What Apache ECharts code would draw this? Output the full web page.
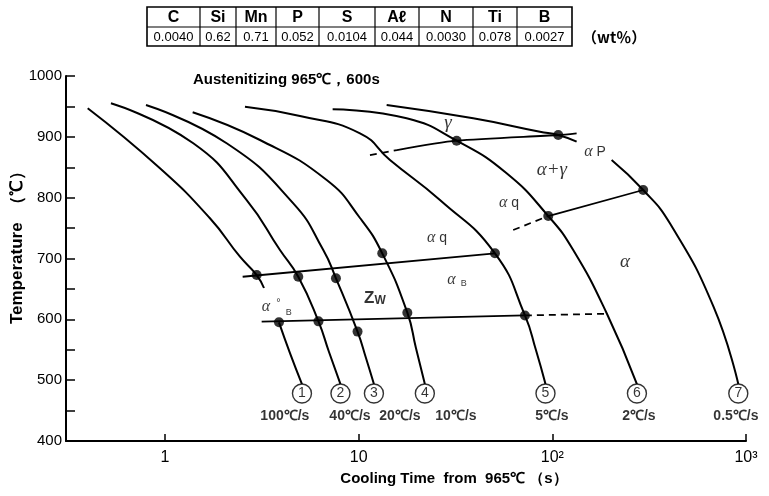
<!DOCTYPE html>
<html><head><meta charset="utf-8">
<script src="https://cdn.jsdelivr.net/npm/echarts@6/dist/echarts.min.js"></script>
<style>html,body{margin:0;padding:0;background:#fff}#c{width:769px;height:496px}</style>
</head><body><div id="c"></div>
<script>
// ---- data ----
const elements = ['C','Si','Mn','P','S','Aℓ','N','Ti','B'];
const composition = ['0.0040','0.62','0.71','0.052','0.0104','0.044','0.0030','0.078','0.0027'];
const xTickValues = [1, 10, 100, 1000];
const xTickLabels = ['1', '10', '10²', '10³'];
const yTickValues = [400, 500, 600, 700, 800, 900, 1000];
const coolingRates = ['100℃/s','40℃/s','20℃/s','10℃/s','5℃/s','2℃/s','0.5℃/s'];
const curveNumbers = ['1','2','3','4','5','6','7'];
// cooling curves [time s, temperature C]
const curve1a = [[0.399,946.9],[0.942,848.3],[1.707,766.1],[2.439,702.9],[2.975,672.8],[3.245,651.5]];
const curve1b = [[3.878,595.1],[4.42,544.6],[5.097,493.6]];
const curve2 = [[0.526,955.1],[1.400,889.4],[2.641,796.1],[3.924,713.9],[4.878,670.0],[6.202,596.7],[7.03,546.3],[8.055,493.6]];
const curve3 = [[0.798,952.3],[2.082,889.4],[4.597,790.7],[6.567,713.9],[7.635,667.4],[9.87,579.8],[10.91,536.4],[11.99,493.6]];
const curve4 = [[1.390,940.3],[3.094,894.8],[6.838,829.0],[10.16,766.6],[13.24,708.5],[17.84,610.9],[19.76,552.8],[21.97,493.6]];
const curve5 = [[2.588,949.5],[4.977,934.2],[10.16,905.8],[14.51,861.9],[26.29,796.1],[50.55,708.5],[72.2,606.4],[82.3,549.5],[92.2,493.6]];
const curve6 = [[7.34,945.3],[17.69,930.5],[32.06,893.6],[58.07,840.0],[95.3,769.8],[128.2,713.9],[191.4,609.2],[273.4,493.6]];
const curve7a = [[13.95,952.3],[39.04,930.5],[86.3,908.4],[107.3,903.0],[133.5,892.0]];
const curve7b = [[202.4,861.9],[294.6,812.6],[404.6,757.8],[680.3,620.4],[912.5,493.6]];
// transformation lines
const gammaStartDashed = [[11.44,870.1],[15.77,878.3]];
const gammaStart = [[15.77,878.3],[32.06,893.6],[107.3,903.0],[133.5,905.8]];
const ferriteFinishDashed = [[62.8,746.8],[95.3,769.8]];
const ferriteFinish = [[95.3,769.8],[294.6,812.6]];
const upperLine = [[2.518,670.0],[50.55,708.5]];
const lowerLine = [[3.157,596.1],[72.2,606.4]];
const lowerLineDashed = [[72.2,606.4],[191.4,609.2]];
const transformPoints = [[2.975,672.8],[3.878,595.1],[4.878,670.0],[6.202,596.7],[7.635,667.4],[9.87,579.8],
  [13.24,708.5],[17.84,610.9],[50.55,708.5],[72.2,606.4],[32.06,893.6],[95.3,769.8],[107.3,903.0],[294.6,812.6]];
// annotation anchors
const circleAnchors = [[5.097,478],[8.055,478],[11.99,478],[21.97,478],[92.2,478],[273.4,478],[912.5,478]];
const rateAnchors = [[4.16,441],[9.02,441],[16.34,441],[31.8,441],[99.5,441],[280,441],[887,441]];
const phaseLabels = [
  {v:[28.9,922.7], t:'{b|γ}'},
  {v:[166,875.1], t:'{g|α}{u| P}'},
  {v:[99.5,845.5], t:'{b|α+γ}'},
  {v:[59.7,791.2], t:'{g|α}{u| q}'},
  {v:[25.4,733.7], t:'{g|α}{u| q}'},
  {v:[237,694.2], t:'{b|α}'},
  {v:[32.2,664.6], t:'{g|α}{sub|  B}'},
  {v:[12.14,635.0], t:'{z|Z}{zs|W}'},
  {v:[3.78,620.2], t:'{g|α}{sup|  °}{sub|  B}'}
];

// ---- chart ----
const chart = echarts.init(document.getElementById('c'), null, {renderer:'canvas'});
const FONT = "'Liberation Sans Narrow','Liberation Sans',Arial,sans-serif";
function curve(data) {
  return {type:'line', data, symbol:'none', smooth:0.5, silent:true,
    lineStyle:{color:'#000', width:2}, z:3, animation:false};
}
function straight(data, dashed) {
  return {type:'line', data, symbol:'none', smooth:0.25, silent:true, animation:false,
    lineStyle:{color:'#000', width:1.8, type: dashed ? [7,5] : 'solid'}, z:3};
}

// table graphic
const colW = [53,36,40,43,56,44,54,44,55];
const tableX = 147, rowY = [7, 27, 46];
const tableEls = [];
let cx = tableX;
colW.forEach((w, i) => {
  tableEls.push({type:'text', x: cx + w/2, y: (rowY[0]+rowY[1])/2 + 1, style:{text: elements[i], font: "bold 16px 'Liberation Sans',Arial,sans-serif", fill:'#000', align:'center', verticalAlign:'middle'}});
  tableEls.push({type:'text', x: cx + w/2, y: (rowY[1]+rowY[2])/2 + 1, style:{text: composition[i], font: "13px " + FONT, fill:'#000', align:'center', verticalAlign:'middle'}});
  if (i > 0) tableEls.push({type:'line', shape:{x1:cx, y1:rowY[0], x2:cx, y2:rowY[2]}, style:{stroke:'#000', lineWidth:1.2}});
  cx += w;
});
tableEls.push({type:'rect', shape:{x:tableX, y:rowY[0], width: cx - tableX, height: rowY[2]-rowY[0]}, style:{fill:'none', stroke:'#000', lineWidth:1.6}});
tableEls.push({type:'line', shape:{x1:tableX, y1:rowY[1], x2:cx, y2:rowY[1]}, style:{stroke:'#000', lineWidth:1.2}});
tableEls.push({type:'text', x: cx + 10, y: (rowY[1]+rowY[2])/2 + 1, style:{text:'（wt％）', font: "bold 15px 'Noto Sans CJK JP',sans-serif", fill:'#000', verticalAlign:'middle'}});
tableEls.push({type:'text', x: 193, y: 80, style:{text:'Austenitizing 965℃，600s', font: "bold 15px 'Liberation Sans',Arial,sans-serif", fill:'#000', verticalAlign:'middle'}});

const option = {
  animation: false,
  backgroundColor: '#fff',
  grid: {left: 66, right: 23, top: 76, bottom: 55, outerBoundsMode: 'none'},
  xAxis: {
    type: 'log', logBase: 10, min: 0.3083, max: 1000,
    name: 'Cooling Time  from  965℃ （s）', nameLocation: 'middle', nameGap: 30, nameMoveOverlap: false,
    nameTextStyle: {fontFamily: "'Liberation Sans',Arial,sans-serif", fontWeight: 'bold', fontSize: 15, color:'#000', padding:[0,0,0,96]},
    axisLine: {lineStyle: {color: '#000', width: 2}},
    axisTick: {inside: true, length: 7, lineStyle: {color:'#000', width: 1.5}, customValues: xTickValues},
    axisLabel: {customValues: xTickValues, color: '#000', fontSize: 16, fontFamily: FONT, margin: 9,
      formatter: v => { const i = xTickValues.indexOf(Math.round(v)); return (i >= 0 && Math.abs(v - xTickValues[i]) < 1e-6 * v + 1e-9) ? xTickLabels[i] : ''; }},
    splitLine: {show: false}, minorTick: {show: false}
  },
  yAxis: {
    type: 'value', min: 400, max: 1000, interval: 50,
    name: 'Temperature  （℃）', nameLocation: 'middle', nameGap: 40, nameRotate: 90, nameMoveOverlap: false,
    nameTextStyle: {fontFamily: "'Liberation Sans',Arial,sans-serif", fontWeight: 'bold', fontSize: 17, color:'#000', padding:[0,0,0,30]},
    axisLine: {show: true, lineStyle: {color: '#000', width: 2}},
    axisTick: {show: true, inside: true, length: 9, lineStyle: {color:'#000', width: 1.5}},
    axisLabel: {color: '#000', fontSize: 15, fontFamily: FONT, margin: 4,
      formatter: v => yTickValues.indexOf(v) >= 0 ? String(v) : ''},
    splitLine: {show: false}
  },
  graphic: tableEls,
  series: [
    curve(curve1a), curve(curve1b), curve(curve2), curve(curve3), curve(curve4),
    curve(curve5), curve(curve6), curve(curve7a), curve(curve7b),
    straight(gammaStartDashed, true), straight(gammaStart, false),
    straight(ferriteFinishDashed, true), straight(ferriteFinish, false),
    straight(upperLine, false), straight(lowerLine, false), straight(lowerLineDashed, true),
    {type:'scatter', data: transformPoints, symbol:'circle', symbolSize: 10, itemStyle:{color:'#000'}, z:5, silent:true, animation:false},
    {type:'scatter', data: circleAnchors.map((p,i)=>({value:p, label:{formatter: curveNumbers[i]}})), symbol:'circle', symbolSize: 19,
      itemStyle:{color:'#fff', borderColor:'#000', borderWidth:1.4}, z:6, silent:true, animation:false,
      label:{show:true, position:'inside', color:'#000', fontSize:14, fontFamily:"'Liberation Sans',Arial,sans-serif"}},
    {type:'scatter', data: rateAnchors.map((p,i)=>({value:p, label:{formatter: coolingRates[i]}})), symbolSize: 0, z:6, silent:true, animation:false,
      label:{show:true, position:'inside', color:'#000', fontSize:14, fontWeight:'bold', fontFamily: FONT}},
    {type:'scatter', data: phaseLabels.map(p=>({value:p.v, label:{formatter:p.t}})), symbolSize: 0, z:6, silent:true, animation:false,
      label:{show:true, position:'inside', color:'#000',
        rich:{
          g:{fontSize:16, fontStyle:'italic', fontFamily:"'Liberation Serif','DejaVu Serif',serif", color:'#000'},
          u:{fontSize:14, fontFamily:"'Liberation Sans',Arial,sans-serif", color:'#000'},
          b:{fontSize:19, fontStyle:'italic', fontFamily:"'Liberation Serif','DejaVu Serif',serif", color:'#000'},
          sub:{fontSize:9, fontFamily:"'Liberation Sans',Arial,sans-serif", color:'#000', verticalAlign:'bottom', padding:[6,0,0,0]},
          sup:{fontSize:11, fontFamily:"'Liberation Sans',Arial,sans-serif", color:'#000', verticalAlign:'top', padding:[0,0,8,0]},
          z:{fontSize:17, fontWeight:'bold', fontFamily:"'Liberation Sans',Arial,sans-serif", color:'#000'},
          zs:{fontSize:12, fontWeight:'bold', fontFamily:"'Liberation Sans',Arial,sans-serif", color:'#000', verticalAlign:'bottom', padding:[6,0,0,0]}
        }}}
  ]
};
chart.setOption(option);
</script></body></html>
